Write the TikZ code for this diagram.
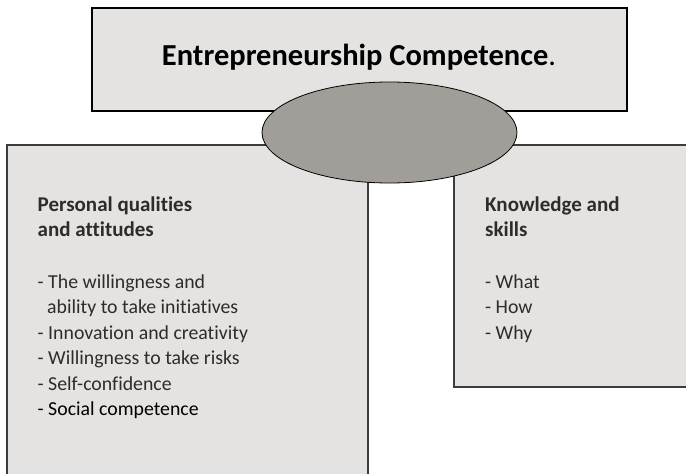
\documentclass[tikz,border=0pt]{standalone}
\usepackage{fontspec}
\setmainfont[Ligatures=NoCommon]{Carlito}
\usetikzlibrary{shapes.geometric}

\definecolor{boxgray}{HTML}{E4E3E1}
\definecolor{ovalgray}{HTML}{A19E99}
\definecolor{linegray}{HTML}{3C3C3C}
\definecolor{textgray}{HTML}{2E2B2B}

\tikzset{
    panel/.style={draw=linegray, line width=1.2pt, fill=boxgray},
    body/.style={anchor=base west, inner sep=0pt, text=textgray,
        font=\fontsize{19.8}{25.5}\selectfont, align=left},
    head/.style={body, font=\fontsize{21}{25}\selectfont\bfseries}
}

\begin{document}
\begin{tikzpicture}[x=1pt, y=-1pt]
        \useasboundingbox (0, 0) rectangle (686, 474);
        \clip (0, 0) rectangle (686, 474);

        % lower panels
        \draw[panel] (7, 145) rectangle (368, 490);
        \draw[panel] (454, 145) rectangle (700, 387);

        % top panel
        \draw[panel, draw=black, line width=1.6pt] (92, 8) rectangle (627, 111);
        \node[anchor=base, inner sep=0pt, font=\fontsize{30.5}{33}\selectfont]
            (title) at (359, 65.3) {\textbf{Entrepreneurship Competence}.};

        % oval
        \node[ellipse, draw=black, line width=0.8pt, fill=ovalgray,
            minimum width=255, minimum height=101, inner sep=0pt]
            (oval) at (389.5, 132.5) {};

        % left panel texts
        \node[head] (pershead) at (37.5, 211.7) {Personal qualities};
        \node[head] (pershead2) at (37.5, 236.7) {and attitudes};
        \node[body] (pers1) at (37.5, 288) {- The willingness and};
        \node[body] (pers2) at (47, 313.5) {ability to take initiatives};
        \node[body] (pers3) at (37.5, 339) {- Innovation and creativity};
        \node[body] (pers4) at (37.5, 364.5) {- Willingness to take risks};
        \node[body] (pers5) at (37.5, 390) {- Self-confidence};
        \node[body, text=black] (pers6) at (37.5, 415.5) {- Social competence};

        % right panel texts
        \node[head] (knowhead) at (485, 211.7) {Knowledge and};
        \node[head] (knowhead2) at (485, 236.7) {skills};
        \node[body] (know1) at (485, 288) {- What};
        \node[body] (know2) at (485, 313.5) {- How};
        \node[body] (know3) at (485, 339) {- Why};
    \end{tikzpicture}
\end{document}
